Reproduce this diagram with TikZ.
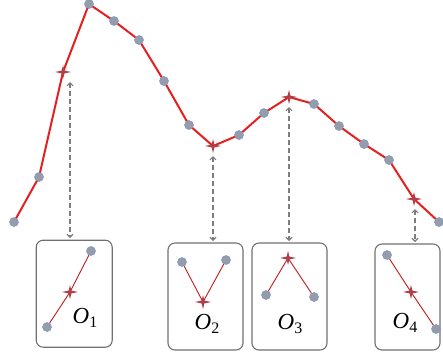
\documentclass[tikz,border=0pt]{standalone}
\usepackage{fontspec}
\setmainfont{Liberation Serif}
\usetikzlibrary{arrows.meta}
\definecolor{curvered}{RGB}{228,32,32}
\definecolor{dotgray}{RGB}{150,156,168}
\definecolor{dotblue}{RGB}{120,150,205}
\definecolor{starred}{RGB}{178,62,72}
\definecolor{arrgray}{RGB}{125,125,125}
\definecolor{boxgray}{RGB}{112,112,112}
\tikzset{
  dot/.style={circle,fill=dotgray,draw=dotblue,line width=0.5pt,minimum size=9pt,inner sep=0pt},
  curve/.style={curvered,line width=2pt,line join=round},
  inline/.style={curvered!85!black,line width=0.9pt},
  darr/.style={arrgray,line width=1.1pt,dash pattern=on 5pt off 3pt,{Straight Barb[length=3pt,width=6pt]}-{Straight Barb[length=3pt,width=6pt]}},
  obox/.style={draw=boxgray,line width=1.1pt,rounded corners=7pt,inner sep=0pt},
  olabel/.style={inner sep=0pt,font=\fontsize{23}{24}\selectfont}
}
\newcommand\starmk[1]{\fill[starred,shift={(#1)}] (0,-7) -- (1.4,-1.4) -- (8,0) -- (1.4,1.4) -- (0,7) -- (-1.4,1.4) -- (-8,0) -- (-1.4,-1.4) -- cycle;}
\newcommand\olab[1]{\textit{O}\raisebox{-4.5pt}{\fontsize{16}{17}\selectfont #1}}
\begin{document}
\begin{tikzpicture}[x=1pt,y=-1pt]
\useasboundingbox (0,0) rectangle (443,360);
% curve points
\coordinate (p1) at (14,222);
\coordinate (p2) at (39,177);
\coordinate (s1) at (63,72);
\coordinate (p3) at (89,4);
\coordinate (p4) at (114,21);
\coordinate (p5) at (139,40);
\coordinate (p6) at (164,81);
\coordinate (p7) at (189,125);
\coordinate (s2) at (213,146);
\coordinate (p8) at (239,135);
\coordinate (p9) at (264,113);
\coordinate (s3) at (289,97);
\coordinate (p10) at (314,104);
\coordinate (p11) at (339,126);
\coordinate (p12) at (364,144);
\coordinate (p13) at (389,160);
\coordinate (s4) at (414,199);
\coordinate (p14) at (439,222);
\draw[curve] (p1) -- (p2) -- (s1) -- (p3) -- (p4) -- (p5) -- (p6) -- (p7) -- (s2) -- (p8) -- (p9) -- (s3) -- (p10) -- (p11) -- (p12) -- (p13) -- (s4) -- (p14);
\foreach \p in {p1,p2,p3,p4,p5,p6,p7,p8,p9,p10,p11,p12,p13,p14}
  \node[dot] at (\p) {};
\foreach \s in {s1,s2,s3,s4}
  {\starmk{\s}}
% boxes
\node[obox,minimum width=76pt,minimum height=107pt] (b1) at (74.2,293.7) {};
\node[obox,minimum width=75pt,minimum height=107pt] (b2) at (205.5,296.5) {};
\node[obox,minimum width=75pt,minimum height=107pt] (b3) at (289.5,296.5) {};
\node[obox,minimum width=65pt,minimum height=106pt] (b4) at (407.5,297) {};
% arrows
\coordinate (a1t) at (70,82);
\coordinate (a1b) at (70,238);
\coordinate (a2t) at (213,156);
\coordinate (a2b) at (213,241);
\coordinate (a3t) at (289,107);
\coordinate (a3b) at (289,241);
\coordinate (a4t) at (415,209);
\coordinate (a4b) at (415,242);
\draw[darr] (a1t) -- (a1b);
\draw[darr] (a2t) -- (a2b);
\draw[darr] (a3t) -- (a3b);
\draw[darr] (a4t) -- (a4b);
% box contents
\coordinate (c1) at (70,292);
\node[dot] (d1a) at (91,251) {};
\node[dot] (d1b) at (47,327) {};
\draw[inline] (d1a) -- (c1) -- (d1b);
\coordinate (c2) at (203,302);
\node[dot] (d2a) at (182,262) {};
\node[dot] (d2b) at (226,260) {};
\draw[inline] (d2a) -- (c2) -- (d2b);
\coordinate (c3) at (288,258);
\node[dot] (d3a) at (266,295) {};
\node[dot] (d3b) at (314,297) {};
\draw[inline] (d3a) -- (c3) -- (d3b);
\coordinate (c4) at (411,292);
\node[dot] (d4a) at (387,255) {};
\node[dot] (d4b) at (436,329) {};
\draw[inline] (d4a) -- (c4) -- (d4b);
\foreach \c in {c1,c2,c3,c4} {\starmk{\c}}
% labels
\node[olabel] (l1) at (85,318) {\olab{1}};
\node[olabel] (l2) at (207,324) {\olab{2}};
\node[olabel] (l3) at (290,324) {\olab{3}};
\node[olabel] (l4) at (405,323) {\olab{4}};
\end{tikzpicture}
\end{document}
